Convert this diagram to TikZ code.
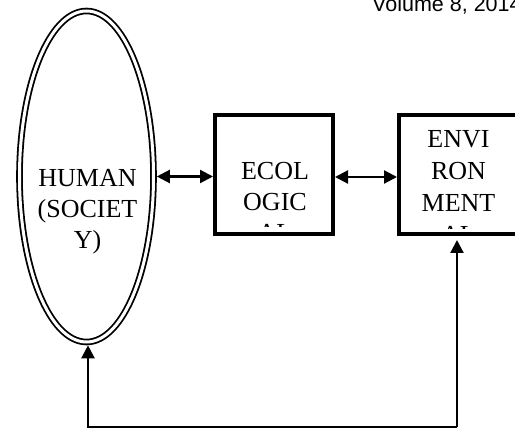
\documentclass[tikz,border=0pt]{standalone}
\usepackage{fontspec}
\setmainfont{Liberation Serif}
\newfontfamily\arialf{Liberation Sans}
\usetikzlibrary{shapes.geometric,arrows.meta}
\begin{document}
\begin{tikzpicture}[x=1pt,y=-1pt,
  boxnode/.style={draw,line width=4pt,minimum width=118pt,minimum height=119pt,inner sep=0pt},
  lbl/.style={font=\fontsize{26}{31}\selectfont,anchor=base,inner sep=0pt},
  link/.style={line width=2.2pt},
  tip/.style={-{Triangle[length=13pt,width=13pt]}},
  both/.style={{Triangle[length=13pt,width=13pt]}-{Triangle[length=13pt,width=13pt]}}]
\useasboundingbox (0,0) rectangle (515,430);
% header
\node[font=\arialf\fontsize{21.5}{24}\selectfont,anchor=base west,inner sep=0pt] (hdr) at (372,12) {Volume 8, 2014};
% ellipse
\node[draw,ellipse,double,line width=1.8pt,double distance=3pt,minimum width=134pt,minimum height=331pt,inner sep=0pt,outer sep=3.3pt] (human) at (86.5,176.5) {};
\node[lbl] (h1) at (87.5,187) {HUMAN};
\node[lbl] (h2) at (87.5,218) {(SOCIET};
\node[lbl] (h3) at (87.5,249) {Y)};
% boxes
\node[boxnode] (eco) at (274,174.5) {};
\node[boxnode] (env) at (458,174.5) {};
\node[lbl] (e1) at (275,180) {ECOL};
\node[lbl] (e2) at (275,211) {OGIC};
\begin{scope}
  \clip (216,214) rectangle (332,226.3);
  \node[lbl] (e3) at (275,242) {AL};
\end{scope}
\node[lbl] (n1) at (458.5,148) {ENVI};
\node[lbl] (n2) at (458.5,180) {RON};
\node[lbl] (n3) at (458.5,212) {MENT};
\begin{scope}
  \clip (400,216) rectangle (515,228.3);
  \node[lbl] (n4) at (458.5,244) {AL};
\end{scope}
% connectors
\draw[link,both] (human.east) -- (human.east -| eco.west);
\draw[link,both] ([yshift=-2.5pt]eco.east) -- ([yshift=-2.5pt]env.west);
\coordinate (corner) at (457,427);
\draw[link,tip] (corner) -- ([yshift=-4pt]env.south -| corner);
\draw[link,tip] (corner) -| ([xshift=1.5pt]human.south);
\end{tikzpicture}
\end{document}
